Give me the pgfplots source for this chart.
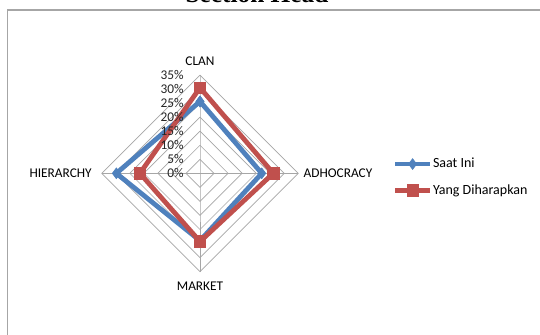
\documentclass[border=0pt]{standalone}
\usepackage{pgfplots}
\pgfplotsset{compat=1.18}
\usepgfplotslibrary{polar}
\usepackage{fontspec}
\setmainfont{Carlito}
\newfontfamily\titlefont{Liberation Serif}
\definecolor{cblue}{HTML}{4F81BD}
\definecolor{cred}{HTML}{C0504D}
\definecolor{cgrid}{HTML}{A6A6A6}
\begin{document}
\begin{tikzpicture}
\useasboundingbox (0,0) rectangle (405pt,251.25pt);
\fill[white] (0,0) rectangle (405pt,251.25pt);
\draw[gray!70, line width=0.8pt] (5.6pt,0) -- (5.6pt,243.75pt) -- (405pt,243.75pt);
\node[anchor=base, font=\titlefont\bfseries\fontsize{19}{22}\selectfont] at (192.75pt,249.2pt) {Section Head};
\begin{polaraxis}[
  at={(150pt,121.25pt)}, anchor=center,
  scale only axis, width=147.4pt, height=147.4pt,
  xmin=0, xmax=360, ymin=0, ymax=35,
  hide axis, xtick=\empty, ytick=\empty,
  clip=false,
  font=\fontsize{10}{12}\selectfont,
  legend style={draw=none, fill=none, at={(1.48,0.48)}, anchor=west,
    font=\fontsize{10.5}{12}\selectfont, row sep=10pt, inner sep=0pt,
    nodes={inner sep=0.5pt}},
  legend cell align=left,
  legend image code/.code={\draw[mark repeat=2,mark phase=2,#1] plot coordinates {(0pt,0pt)(13pt,0pt)(26pt,0pt)};},
]
% grid diamonds
\addplot[cgrid, line width=0.5pt, no markers, forget plot] coordinates {(90,5)(0,5)(270,5)(180,5)(90,5)};
\addplot[cgrid, line width=0.5pt, no markers, forget plot] coordinates {(90,10)(0,10)(270,10)(180,10)(90,10)};
\addplot[cgrid, line width=0.5pt, no markers, forget plot] coordinates {(90,15)(0,15)(270,15)(180,15)(90,15)};
\addplot[cgrid, line width=0.5pt, no markers, forget plot] coordinates {(90,20)(0,20)(270,20)(180,20)(90,20)};
\addplot[cgrid, line width=0.5pt, no markers, forget plot] coordinates {(90,25)(0,25)(270,25)(180,25)(90,25)};
\addplot[cgrid, line width=0.5pt, no markers, forget plot] coordinates {(90,30)(0,30)(270,30)(180,30)(90,30)};
\addplot[cgrid, line width=0.5pt, no markers, forget plot] coordinates {(90,35)(0,35)(270,35)(180,35)(90,35)};
% spokes
\addplot[cgrid, line width=0.5pt, no markers, forget plot] coordinates {(90,35)(90,0)(270,35)};
\addplot[cgrid, line width=0.5pt, no markers, forget plot] coordinates {(0,35)(0,0)(180,35)};
% series
\addplot[cblue, line width=3.6pt, mark=diamond*, mark size=4pt, mark options={solid, line width=0.5pt}]
  coordinates {(90,25.6)(0,22.0)(270,24.0)(180,29.8)(90,25.6)};
\addlegendentry{Saat Ini}
\addplot[cred, line width=3.6pt, mark=square*, mark size=4.3pt, mark options={solid, line width=0.5pt}]
  coordinates {(90,30.5)(0,26.1)(270,24.3)(180,21.4)(90,30.5)};
\addlegendentry{Yang Diharapkan}
% radial tick labels
\foreach \r in {0,5,...,35} {
  \edef\temp{\noexpand\node[anchor=east, inner sep=0pt, text=black!85] at (axis cs:90,\r) [xshift=-12pt] {\r\noexpand\%};}
  \temp
}
% category labels
\node[anchor=south, yshift=3.5pt] at (axis cs:90,35) {CLAN};
\node[anchor=west, xshift=0.5pt] at (axis cs:0,35) {ADHOCRACY};
\node[anchor=north, yshift=-4.5pt] at (axis cs:270,35) {MARKET};
\node[anchor=east, xshift=-4pt] at (axis cs:180,35) {HIERARCHY};
\end{polaraxis}
\end{tikzpicture}
\end{document}
